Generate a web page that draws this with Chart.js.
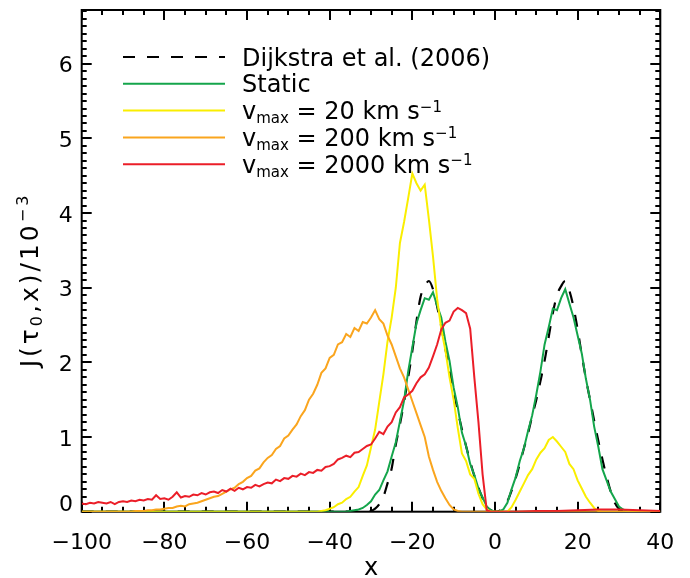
<!DOCTYPE html>
<html>
<head>
<meta charset="utf-8">
<script src="https://cdn.jsdelivr.net/npm/chart.js@4.4.1/dist/chart.umd.min.js"></script>
<style>
  html, body { margin: 0; padding: 0; background: #fff; }
  #wrap { width: 690px; height: 578px; }
</style>
</head>
<body>
<div id="wrap"><canvas id="myChart" width="690" height="578"></canvas></div>
<script>
function range(a, b) {
    const out = [];
    for (let v = a; v <= b; v++) out.push(v);
    return out;
}

// axis ticks
const xTicks = [-100, -80, -60, -40, -20, 0, 20, 40];
const yTicks = [0, 1, 2, 3, 4, 5, 6];

// Dijkstra et al. (2006), analytic
const xDijkstra = [-100, ...range(-34, 34), 40];
const yDijkstra = [0,
    0, 0, 0, 0,
    0.01, 0.04, 0.1, 0.2, 0.38, 0.58, 0.9, 1.17, 1.47, 1.8,
    2.15, 2.55, 2.88, 3.02, 3.09, 2.98, 2.75, 2.48, 2.18, 1.9,
    1.62, 1.35, 1.1, 0.88, 0.67, 0.48, 0.32, 0.18, 0.08, 0.02,
    0,
    0.01, 0.05, 0.14, 0.28, 0.45, 0.64, 0.85, 1.05, 1.28, 1.5,
    1.75, 2.02, 2.34, 2.66, 2.9, 3.02, 3.09, 2.96, 2.74, 2.44,
    2.1, 1.78, 1.5, 1.22, 0.95, 0.7, 0.47, 0.27, 0.12, 0.04,
    0.01, 0, 0, 0,
    0];

// static sphere
const xStatic = [-100, ...range(-36, 32), 40];
const yStatic = [0,
    0, 0.01, 0.02, 0.03, 0.05, 0.09, 0.14, 0.23, 0.29, 0.42,
    0.54, 0.74, 0.93, 1.21, 1.49, 1.88, 2.2, 2.52, 2.7, 2.86,
    2.84, 2.94, 2.76, 2.6, 2.28, 2.02, 1.66, 1.4, 1.06, 0.88,
    0.64, 0.49, 0.31, 0.19, 0.07, 0.02, 0, 0, 0.03, 0.12,
    0.3, 0.46, 0.68, 0.85, 1.08, 1.29, 1.57, 1.88, 2.24, 2.47,
    2.72, 2.7, 2.86, 2.98, 2.79, 2.6, 2.36, 2.12, 1.78, 1.5,
    1.14, 0.87, 0.57, 0.42, 0.27, 0.17, 0.07, 0.03, 0,
    0];

// vmax = 20 km/s
const xV20 = [-100, ...range(-44, 26), 40];
const yV20 = [0,
    0, 0, 0.01, 0.02, 0.04, 0.06, 0.1, 0.12, 0.17, 0.2,
    0.27, 0.33, 0.48, 0.62, 0.86, 1.1, 1.47, 1.84, 2.28, 2.6,
    3.0, 3.6, 3.88, 4.2, 4.53, 4.4, 4.3, 4.38, 3.92, 3.42,
    2.85, 2.45, 2.16, 1.8, 1.5, 1.12, 0.78, 0.68, 0.5, 0.44,
    0.24, 0.1, 0.03, 0, 0, 0, 0, 0, 0.06, 0.16,
    0.27, 0.38, 0.49, 0.57, 0.7, 0.79, 0.85, 0.96, 1.0, 0.94,
    0.87, 0.8, 0.64, 0.57, 0.42, 0.31, 0.2, 0.12, 0.05, 0.01, 0,
    0];

// vmax = 200 km/s
const xV200 = [-100, ...range(-90, -8), 40];
const yV200 = [0,
    0, 0, 0, 0.01, 0.01, 0.01, 0.02, 0.02, 0.03, 0.03,
    0.04, 0.05, 0.05, 0.07, 0.08, 0.07, 0.1, 0.11, 0.12, 0.14,
    0.16, 0.18, 0.2, 0.21, 0.24, 0.27, 0.3, 0.32, 0.37, 0.4,
    0.45, 0.48, 0.55, 0.58, 0.66, 0.72, 0.76, 0.84, 0.88, 0.98,
    1.02, 1.1, 1.17, 1.28, 1.36, 1.5, 1.58, 1.7, 1.86, 1.92,
    2.06, 2.1, 2.24, 2.27, 2.38, 2.34, 2.46, 2.42, 2.54, 2.52,
    2.6, 2.7, 2.58, 2.52, 2.36, 2.24, 2.08, 1.92, 1.8, 1.64,
    1.48, 1.32, 1.16, 1.0, 0.74, 0.56, 0.4, 0.28, 0.18, 0.09,
    0.03, 0.01, 0,
    0];

// vmax = 2000 km/s
const xV2000 = [...range(-100, -2), -1, 0, 5, 10, 15, 20, 25, 30, 35, 40];
const yV2000 = [
    0.11, 0.1, 0.12, 0.11, 0.13, 0.12, 0.11, 0.13, 0.1, 0.13,
    0.14, 0.13, 0.15, 0.14, 0.16, 0.15, 0.17, 0.16, 0.22, 0.17,
    0.18, 0.16, 0.2, 0.26, 0.19, 0.21, 0.2, 0.23, 0.22, 0.25,
    0.23, 0.26, 0.27, 0.25, 0.29, 0.27, 0.31, 0.28, 0.32, 0.3,
    0.33, 0.32, 0.36, 0.34, 0.37, 0.39, 0.38, 0.43, 0.41, 0.45,
    0.44, 0.48, 0.47, 0.51, 0.49, 0.53, 0.52, 0.56, 0.55, 0.6,
    0.61, 0.64, 0.7, 0.72, 0.75, 0.73, 0.79, 0.8, 0.84, 0.88,
    0.9, 0.98, 1.07, 1.04, 1.14, 1.2, 1.33, 1.4, 1.53, 1.57,
    1.62, 1.72, 1.8, 1.84, 1.93, 2.08, 2.24, 2.44, 2.53, 2.56,
    2.68, 2.73, 2.7, 2.66, 2.45, 1.8, 1.2, 0.5, 0.02,
    0, 0, 0, 0.01, 0.01, 0.02, 0.03, 0.03, 0.02, 0.01];

// legend text pieces: [text, kind]
const legendLabels = [
    [['Dijkstra et al. (2006)', 'n']],
    [['Static', 'n']],
    [['v', 'n'], ['max', 'sub'], [' = 20 km s', 'n'], ['\u22121', 'sup']],
    [['v', 'n'], ['max', 'sub'], [' = 200 km s', 'n'], ['\u22121', 'sup']],
    [['v', 'n'], ['max', 'sub'], [' = 2000 km s', 'n'], ['\u22121', 'sup']]
];
const yTitle = [['J(\u03c4', 'n'], ['0', 'sub'], [',x)/10', 'n'], ['\u22123', 'sup']];

const FONT = '"DejaVu Sans", sans-serif';

function pts(xs, ys) {
    return xs.map((x, i) => ({ x: x, y: ys[i] }));
}

function fmt(v) {
    return v < 0 ? '\u2212' + Math.abs(v) : String(v);
}

// draws text pieces with sub/superscripts, returns end x
function drawParts(ctx, parts, x, y, size, subDy, supDy, measureOnly) {
    for (const [txt, kind] of parts) {
        const fs = kind === 'n' ? size : Math.round(size * 0.64);
        const dy = kind === 'sub' ? subDy : (kind === 'sup' ? supDy : 0);
        ctx.font = fs + 'px ' + FONT;
        if (!measureOnly) ctx.fillText(txt, x, y + dy);
        x += ctx.measureText(txt).width;
    }
    return x;
}

// frame + inward ticks on all four sides (IDL style)
const frameTicks = {
    id: 'frameTicks',
    beforeDatasetsDraw(chart) {
        const { ctx, chartArea: a, scales: { x, y } } = chart;
        ctx.save();
        ctx.strokeStyle = '#000';
        ctx.lineWidth = 2;
        ctx.strokeRect(a.left, a.top, a.right - a.left, a.bottom - a.top);
        ctx.beginPath();
        for (let v = x.min; v <= x.max; v += 5) {
            const px = Math.round(x.getPixelForValue(v));
            const len = v % 20 === 0 ? 10 : 5;
            ctx.moveTo(px, a.bottom); ctx.lineTo(px, a.bottom - len);
            ctx.moveTo(px, a.top); ctx.lineTo(px, a.top + len);
        }
        for (let i = 0; i / 10 <= y.max; i++) {
            const py = Math.round(y.getPixelForValue(i / 10));
            const len = i % 10 === 0 ? 10 : 5;
            ctx.moveTo(a.left, py); ctx.lineTo(a.left + len, py);
            ctx.moveTo(a.right, py); ctx.lineTo(a.right - len, py);
        }
        ctx.stroke();
        ctx.restore();
    }
};

// legend, axis titles, zero label
const texts = {
    id: 'texts',
    afterDraw(chart) {
        const { ctx, chartArea: a } = chart;
        ctx.save();
        ctx.fillStyle = '#000';
        ctx.textBaseline = 'alphabetic';
        ctx.textAlign = 'left';

        chart.data.datasets.forEach((ds, i) => {
            const ly = 57 + i * 26.8;
            ctx.save();
            ctx.strokeStyle = ds.borderColor;
            ctx.lineWidth = ds.borderWidth;
            ctx.setLineDash(ds.borderDash || []);
            ctx.beginPath();
            ctx.moveTo(123, ly);
            ctx.lineTo(225, ly);
            ctx.stroke();
            ctx.restore();
            drawParts(ctx, legendLabels[i], 242, ly + 8.5, 24, 4, -7.5);
        });

        // y title, rotated
        ctx.save();
        ctx.translate(38, 280);
        ctx.rotate(-Math.PI / 2);
        ctx.letterSpacing = '3px';
        const w = drawParts(ctx, yTitle, 0, 0, 25, 4, -10, true);
        drawParts(ctx, yTitle, -w / 2, 0, 25, 4, -10);
        ctx.restore();

        // x title
        ctx.font = '24px ' + FONT;
        ctx.textAlign = 'center';
        ctx.fillText('x', (a.left + a.right) / 2, 575);

        // zero label of y axis sits a bit above the axis
        ctx.font = '22px ' + FONT;
        ctx.textAlign = 'right';
        ctx.fillText('0', 73, a.bottom - 1);
        ctx.restore();
    }
};

const ctx = document.getElementById('myChart');

const config = {
    type: 'line',
    data: {
        datasets: [
            { label: 'Dijkstra et al. (2006)', data: pts(xDijkstra, yDijkstra), borderColor: '#000', borderWidth: 2.2, borderDash: [12, 12], tension: 0.4, cubicInterpolationMode: 'monotone', order: 5 },
            { label: 'Static', data: pts(xStatic, yStatic), borderColor: 'rgb(20,165,75)', borderWidth: 2, order: 4 },
            { label: 'vmax = 20', data: pts(xV20, yV20), borderColor: 'rgb(250,238,0)', borderWidth: 2, order: 3 },
            { label: 'vmax = 200', data: pts(xV200, yV200), borderColor: 'rgb(250,165,30)', borderWidth: 2, order: 2 },
            { label: 'vmax = 2000', data: pts(xV2000, yV2000), borderColor: 'rgb(235,30,40)', borderWidth: 2, order: 1 }
        ]
    },
    options: {
        responsive: false,
        animation: false,
        devicePixelRatio: 1,
        layout: { padding: { left: 0, top: 10, right: 29.7, bottom: 0 } },
        elements: { point: { radius: 0 } },
        plugins: { legend: { display: false }, tooltip: { enabled: false } },
        scales: {
            x: {
                type: 'linear', min: -100, max: 40,
                grid: { display: false, drawTicks: false },
                border: { display: false },
                afterBuildTicks: s => { s.ticks = xTicks.map(v => ({ value: v })); },
                afterFit: s => { s.height = 66.3; s.paddingLeft = 0; s.paddingRight = 0; },
                ticks: { font: { family: FONT, size: 22 }, color: '#000', padding: 18, maxRotation: 0, autoSkip: false, callback: v => fmt(v) }
            },
            y: {
                type: 'linear', min: 0, max: 6.72,
                grid: { display: false, drawTicks: false },
                border: { display: false },
                afterBuildTicks: s => { s.ticks = yTicks.map(v => ({ value: v })); },
                afterFit: s => { s.width = 81.7; s.paddingTop = 0; s.paddingBottom = 0; },
                ticks: { font: { family: FONT, size: 22 }, color: '#000', padding: 9, labelOffset: 3, callback: v => (v === 0 ? '' : fmt(v)) }
            }
        }
    },
    plugins: [frameTicks, texts]
};

new Chart(ctx, config);
</script>
</body>
</html>
